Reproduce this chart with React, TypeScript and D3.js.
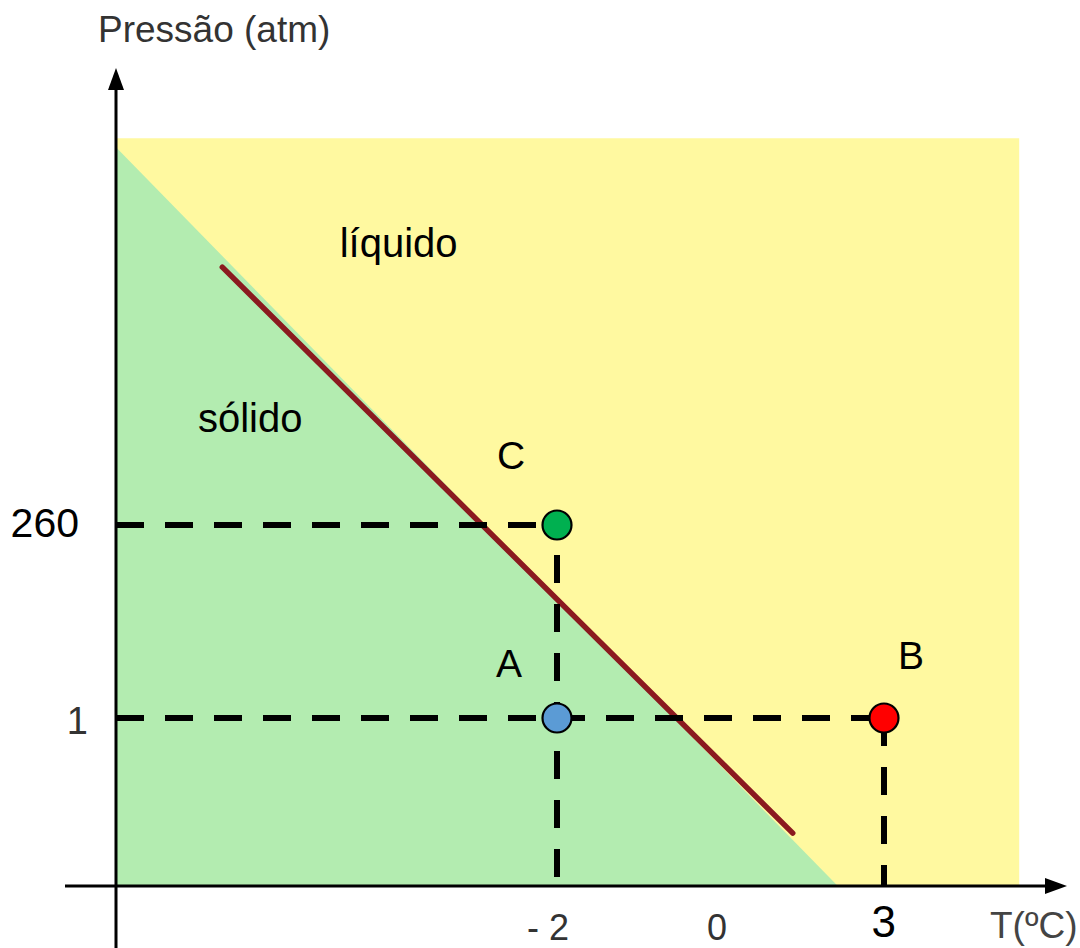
import * as d3 from 'd3'

// axis ticks
const tempTicks = [-2, 0, 3]
const tempTickLabels = ['- 2', '0', '3']
const pressureTicks = [260, 1]
const pressureTickLabels = ['260', '1']

// marked states
const pointNames = ['C', 'A', 'B']
const pointTemps = [-2, -2, 3]
const pointPressures = [260, 1, 1]
const guidePoints = ['C', 'B']

// diagram extent (schematic units)
const tempOrigin = -7.6
const tempEnd = 5.4
const pressureEnd = 779

// solid region and melting curve
const solidTemps = [tempOrigin, tempOrigin, 2.18]
const solidPressures = [767, 0, 0]
const meltTemps = [-6.25, 1.38]
const meltPressures = [606, 0.315]

// region names
const regionNames = ['líquido', 'sólido']
const regionTemps = [-4.76, -6.56]
const regionPressures = [620, 385]

const FONT = '"Liberation Sans", Arial, sans-serif'

const pointFill: Record<string, string> = { C: '#00b050', A: '#5b9bd5', B: '#ff0000' }
const letterOffset: Record<string, [number, number]> = { C: [-46, -56], A: [-48, -41], B: [27, -49] }

function App() {
    const width = 1080
    const height = 948

    const x = d3.scaleLinear().domain([tempOrigin, ...tempTicks]).range([116, 557, 715, 884])
    const y = d3.scaleLinear().domain([0, 1, 260]).range([886, 718, 525])

    const x0 = x(tempOrigin)
    const y0 = y(0)

    const area = d3.line<number>()
        .x(i => x(solidTemps[i]))
        .y(i => y(solidPressures[i]))
    const melt = d3.line<number>()
        .x(i => x(meltTemps[i]))
        .y(i => y(meltPressures[i]))

    const points = pointNames.map((name, i) => ({ name, t: pointTemps[i], p: pointPressures[i] }))

    return (
        <svg
            width={width}
            height={height}
            style={{ position: 'absolute', left: 0, top: 0, background: '#fff' }}
            fontFamily={FONT}
        >
            {/* liquid background */}
            <rect
                x={x0}
                y={y(pressureEnd)}
                width={x(tempEnd) - x0}
                height={y0 - y(pressureEnd)}
                fill="#fff9a0"
            />
            {/* solid region */}
            <path d={area(d3.range(solidTemps.length)) + 'Z'} fill="#b3ecb0" />

            {/* melting curve */}
            <path
                d={melt(d3.range(meltTemps.length)) ?? ''}
                stroke="#8b1a1f"
                strokeWidth={5.5}
                strokeLinecap="round"
                fill="none"
            />

            {/* guide lines */}
            {points.filter(d => guidePoints.includes(d.name)).map(d => (
                <g key={'g' + d.name} stroke="#000" strokeWidth={6} strokeDasharray="28 21">
                    <line x1={x0} x2={x(d.t)} y1={y(d.p)} y2={y(d.p)} />
                    <line x1={x(d.t)} x2={x(d.t)} y1={y(d.p)} y2={y0} strokeDashoffset={d.name === 'C' ? 19 : 0} />
                </g>
            ))}

            {/* axes */}
            <line x1={x0} x2={x0} y1={height} y2={88} stroke="#000" strokeWidth={3} />
            <path d={`M${x0},68L${x0 - 8},90L${x0 + 8},90Z`} fill="#000" />
            <line x1={65} x2={1048} y1={y0} y2={y0} stroke="#000" strokeWidth={3} />
            <path d={`M1067,${y0}L1045,${y0 - 8}L1045,${y0 + 8}Z`} fill="#000" />

            {/* points */}
            {points.map(d => (
                <g key={d.name}>
                    <circle cx={x(d.t)} cy={y(d.p)} r={14.5} fill={pointFill[d.name]} stroke="#000" strokeWidth={2.2} />
                    <text
                        x={x(d.t) + letterOffset[d.name][0]}
                        y={y(d.p) + letterOffset[d.name][1]}
                        textAnchor="middle"
                        fontSize={39}
                        fill="#000"
                    >
                        {d.name}
                    </text>
                </g>
            ))}

            {/* region labels */}
            {regionNames.map((name, i) => (
                <text key={name} x={x(regionTemps[i])} y={y(regionPressures[i])} fontSize={40} fill="#000">
                    {name}
                </text>
            ))}

            {/* y tick labels */}
            {pressureTicks.map((v, i) => (
                <text
                    key={'yt' + v}
                    x={v === 1 ? 88 : 79}
                    y={y(v) + (v === 1 ? 16 : 12)}
                    textAnchor="end"
                    fontSize={v === 1 ? 38 : 41}
                    fill={v === 1 ? '#333' : '#000'}
                >
                    {pressureTickLabels[i]}
                </text>
            ))}

            {/* x tick labels */}
            {tempTicks.map((v, i) => (
                <text
                    key={'xt' + v}
                    x={x(v) + 12}
                    y={v === 3 ? y0 + 51 : y0 + 54}
                    textAnchor="end"
                    fontSize={v === 3 ? 44 : 36}
                    fill={v === 3 ? '#000' : '#333'}
                >
                    {tempTickLabels[i]}
                </text>
            ))}

            {/* axis titles */}
            <text x={98} y={42} fontSize={37} fill="#333">Pressão (atm)</text>
            <text x={990} y={938} fontSize={37} fill="#444">T(ºC)</text>
        </svg>
    )
}

export default App
